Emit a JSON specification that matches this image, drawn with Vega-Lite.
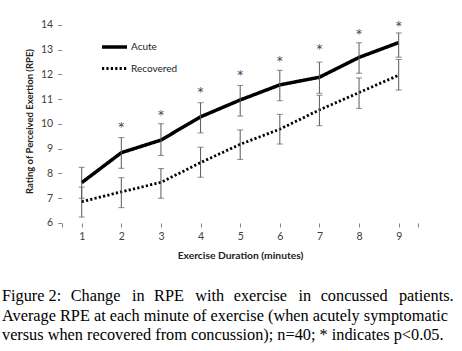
{
  "$schema": "https://vega.github.io/schema/vega-lite/v6.json",
  "width": 439,
  "height": 256,
  "autosize": {"type": "none"},
  "padding": {"left": 11, "top": 14, "right": 12, "bottom": 81},
  "title": {
    "text": ["Figure 2:\u00a0\u200a Change\u00a0\u2009 in\u00a0\u200a RPE\u00a0\u2009 with\u00a0\u200a exercise\u00a0\u2009 in\u00a0\u200a concussed\u00a0\u2009 patients.", "Average RPE at each minute of exercise (when acutely symptomatic", "versus when recovered from concussion); n=40; * indicates p<0.05."],
    "orient": "bottom", "anchor": "start", "frame": "group",
    "font": "Liberation Serif", "fontSize": 16.3, "fontWeight": "normal", "color": "#000",
    "lineHeight": 19.7, "offset": 18, "dx": -9
  },
  "config": {
    "view": {"stroke": null},
    "font": "Lato",
    "axis": {"labelOverlap": false, "labelSeparation": 0, "domain": false, "grid": false, "labelBound": false, "labelFlush": false},
    "axisX": {"offset": -47, "tickSize": 4, "tickColor": "#868686",
      "labelFontSize": 10.5, "labelColor": "#404040", "labelPadding": 4,
      "titleFontSize": 10.3, "titleFontWeight": "bold", "titleColor": "#222", "titleX": 229, "titlePadding": 9},
    "axisY": {"offset": -50.7, "tickSize": 4,
      "labelFontSize": 10.5, "labelColor": "#404040", "labelPadding": 5,
      "titleFontSize": 9.5, "titleFontWeight": "bold", "titleColor": "#222", "titleY": 107, "titlePadding": 6}
  },
  "datasets": {
    "series": [
      {"minute": 1, "group": "Acute", "mean": 7.63, "lo": 7.0, "hi": 8.25},
      {"minute": 2, "group": "Acute", "mean": 8.84, "lo": 8.21, "hi": 9.45},
      {"minute": 3, "group": "Acute", "mean": 9.35, "lo": 8.73, "hi": 10.01},
      {"minute": 4, "group": "Acute", "mean": 10.29, "lo": 9.64, "hi": 10.86},
      {"minute": 5, "group": "Acute", "mean": 10.97, "lo": 10.32, "hi": 11.56},
      {"minute": 6, "group": "Acute", "mean": 11.58, "lo": 10.94, "hi": 12.17},
      {"minute": 7, "group": "Acute", "mean": 11.89, "lo": 11.24, "hi": 12.5},
      {"minute": 8, "group": "Acute", "mean": 12.69, "lo": 12.05, "hi": 13.28},
      {"minute": 9, "group": "Acute", "mean": 13.29, "lo": 12.7, "hi": 13.68},
      {"minute": 1, "group": "Recovered", "mean": 6.86, "lo": 6.24, "hi": 7.45},
      {"minute": 2, "group": "Recovered", "mean": 7.26, "lo": 6.62, "hi": 7.83},
      {"minute": 3, "group": "Recovered", "mean": 7.64, "lo": 7.0, "hi": 8.2},
      {"minute": 4, "group": "Recovered", "mean": 8.44, "lo": 7.85, "hi": 9.06},
      {"minute": 5, "group": "Recovered", "mean": 9.18, "lo": 8.57, "hi": 9.76},
      {"minute": 6, "group": "Recovered", "mean": 9.79, "lo": 9.19, "hi": 10.39},
      {"minute": 7, "group": "Recovered", "mean": 10.57, "lo": 9.93, "hi": 11.16},
      {"minute": 8, "group": "Recovered", "mean": 11.27, "lo": 10.63, "hi": 11.86},
      {"minute": 9, "group": "Recovered", "mean": 11.97, "lo": 11.37, "hi": 12.61}
    ],
    "stars": [
      {"minute": 2, "star": 10.0},
      {"minute": 3, "star": 10.48},
      {"minute": 4, "star": 11.4},
      {"minute": 5, "star": 12.1},
      {"minute": 6, "star": 12.67},
      {"minute": 7, "star": 13.15},
      {"minute": 8, "star": 13.75},
      {"minute": 9, "star": 14.07}
    ]
  },
  "encoding": {
    "x": {"field": "minute", "type": "quantitative",
      "scale": {"domain": [-0.784, 10.295], "nice": false, "zero": false},
      "axis": {"title": "Exercise Duration (minutes)", "values": [0.5, 1, 2, 3, 4, 5, 6, 7, 8, 9, 9.5],
        "labelExpr": "datum.value % 1 == 0 ? format(datum.value, 'd') : ''"}}
  },
  "layer": [
    {
      "data": {"name": "series"},
      "mark": {"type": "line", "color": "black", "strokeCap": "butt"},
      "encoding": {
        "y": {"field": "mean", "type": "quantitative",
          "scale": {"domain": [4.101, 14.444], "nice": false, "zero": false},
          "axis": {"title": "Rating of Perceived Exertion (RPE)", "values": [6, 7, 8, 9, 10, 11, 12, 13, 14], "tickCount": 9,
            "labelExpr": "datum.value < 5.5 ? '' : format(datum.value, 'd')",
            "tickColor": {"condition": {"test": "datum.value < 5.5", "value": "transparent"}, "value": "#868686"}}},
        "strokeDash": {"field": "group", "type": "nominal",
          "scale": {"domain": ["Acute", "Recovered"], "range": [[1, 0], [2.2, 2.2]]},
          "legend": {"orient": "none", "legendX": 89, "legendY": 18.5, "title": null,
            "symbolType": "stroke", "symbolSize": 625, "symbolStrokeColor": "black", "symbolStrokeWidth": 3,
            "labelFontSize": 10, "labelColor": "#222", "labelOffset": 2, "rowPadding": 0, "padding": 0}},
        "strokeWidth": {"field": "group", "type": "nominal",
          "scale": {"domain": ["Acute", "Recovered"], "range": [3.5, 2.8]}, "legend": null}
      }
    },
    {
      "data": {"name": "series"},
      "mark": {"type": "rule", "color": "#595959", "strokeWidth": 1},
      "encoding": {
        "y": {"field": "lo", "type": "quantitative", "title": "Rating of Perceived Exertion (RPE)"},
        "y2": {"field": "hi"}
      }
    },
    {
      "data": {"name": "series"},
      "mark": {"type": "tick", "orient": "horizontal", "color": "#595959", "size": 6, "thickness": 1},
      "encoding": {
        "y": {"field": "lo", "type": "quantitative", "title": "Rating of Perceived Exertion (RPE)"}
      }
    },
    {
      "data": {"name": "series"},
      "mark": {"type": "tick", "orient": "horizontal", "color": "#595959", "size": 6, "thickness": 1},
      "encoding": {
        "y": {"field": "hi", "type": "quantitative", "title": "Rating of Perceived Exertion (RPE)"}
      }
    },
    {
      "data": {"name": "stars"},
      "mark": {"type": "text", "text": "*", "font": "DejaVu Sans", "fontSize": 12, "color": "#444", "baseline": "middle", "dy": 3},
      "encoding": {
        "y": {"field": "star", "type": "quantitative", "title": "Rating of Perceived Exertion (RPE)"}
      }
    },
    {
      "data": {"values": [{}]},
      "mark": {"type": "rule", "color": "#868686", "strokeWidth": 1},
      "encoding": {"x": {"datum": 0.5, "type": "quantitative"}, "y": {"datum": 6, "type": "quantitative"}, "y2": {"datum": 14}}
    },
    {
      "data": {"values": [{}]},
      "mark": {"type": "rule", "color": "#868686", "strokeWidth": 1},
      "encoding": {"y": {"datum": 6, "type": "quantitative"}, "x": {"datum": 0.5, "type": "quantitative"}, "x2": {"datum": 9.5}}
    },
    {
      "data": {"values": [{}]},
      "mark": {"type": "rule", "color": "#d4d4d4", "strokeWidth": 2},
      "encoding": {"x": {"datum": -0.784, "type": "quantitative"}, "y": {"datum": 4.101, "type": "quantitative"}, "y2": {"datum": 14.444}}
    },
    {
      "data": {"values": [{}]},
      "mark": {"type": "rule", "color": "#d4d4d4", "strokeWidth": 2},
      "encoding": {"y": {"datum": 14.444, "type": "quantitative"}, "x": {"datum": -0.784, "type": "quantitative"}, "x2": {"datum": 10.295}}
    },
    {
      "data": {"values": [{}]},
      "mark": {"type": "rule", "color": "#8a8a8a", "strokeWidth": 3},
      "encoding": {"x": {"datum": 10.295, "type": "quantitative"}, "y": {"datum": 4.101, "type": "quantitative"}, "y2": {"datum": 14.444}}
    }
  ]
}
